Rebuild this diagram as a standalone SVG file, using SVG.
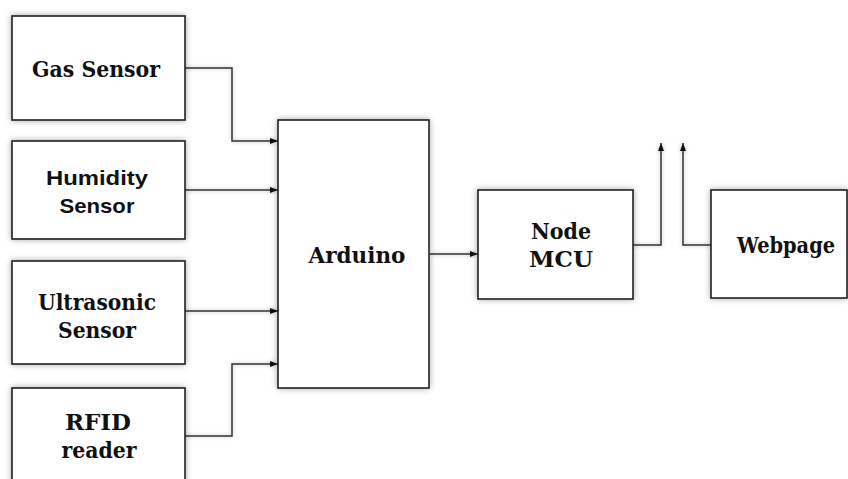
<svg xmlns="http://www.w3.org/2000/svg" width="848" height="479" viewBox="0 0 848 479">
<style>
.box{fill:#fff;stroke:#222;stroke-width:1.6;filter:url(#sh)}
.ln{fill:none;stroke:#333;stroke-width:1.5}
</style>
<defs>
<filter id="sh" x="-10%" y="-10%" width="120%" height="120%">
<feGaussianBlur in="SourceAlpha" stdDeviation="3"/>
<feComponentTransfer><feFuncA type="linear" slope="0.35"/></feComponentTransfer>
<feMerge><feMergeNode/><feMergeNode in="SourceGraphic"/></feMerge>
</filter>
<filter id="sh2" filterUnits="userSpaceOnUse" x="0" y="0" width="848" height="479">
<feGaussianBlur in="SourceAlpha" stdDeviation="2"/>
<feComponentTransfer><feFuncA type="linear" slope="0.3"/></feComponentTransfer>
<feMerge><feMergeNode/><feMergeNode in="SourceGraphic"/></feMerge>
</filter>
<marker id="ar" markerWidth="8" markerHeight="6" refX="8" refY="3" orient="auto" markerUnits="userSpaceOnUse">
<path d="M0,0 L8,3 L0,6 Z" fill="#111"/>
</marker>
</defs>
<rect width="848" height="479" fill="#fff"/>
<g id="connectors" filter="url(#sh2)">
<polyline class="ln" points="185,68 232,68 232,141 278,141" marker-end="url(#ar)"/>
<line class="ln" x1="185" y1="190" x2="278" y2="190" marker-end="url(#ar)"/>
<line class="ln" x1="185" y1="311" x2="278" y2="311" marker-end="url(#ar)"/>
<polyline class="ln" points="185,436 232,436 232,364 278,364" marker-end="url(#ar)"/>
<line class="ln" x1="430" y1="254" x2="478" y2="254" marker-end="url(#ar)"/>
<polyline class="ln" points="633,245 661,245 661,143" marker-end="url(#ar)"/>
<polyline class="ln" points="711,245 683,245 683,143" marker-end="url(#ar)"/>
</g>
<g font-family="'DejaVu Serif', 'Liberation Serif', serif" font-weight="bold" font-size="23" fill="#111" text-anchor="middle">
<g id="gas"><rect class="box" x="12" y="16" width="173" height="104"/><text x="96" y="77" textLength="128" lengthAdjust="spacingAndGlyphs">Gas Sensor</text></g>
<g id="humidity"><rect class="box" x="12" y="141" width="173" height="98"/><text x="97" y="185" font-family="'Liberation Sans', Arial, sans-serif" font-size="21" textLength="102" lengthAdjust="spacingAndGlyphs">Humidity</text><text x="97" y="213" font-family="'Liberation Sans', Arial, sans-serif" font-size="21" textLength="75" lengthAdjust="spacingAndGlyphs">Sensor</text></g>
<g id="ultrasonic"><rect class="box" x="12" y="261" width="173" height="103"/><text x="97" y="310" textLength="118" lengthAdjust="spacingAndGlyphs">Ultrasonic</text><text x="97" y="338" textLength="78" lengthAdjust="spacingAndGlyphs">Sensor</text></g>
<g id="rfid"><rect class="box" x="12" y="388" width="173" height="110"/><text x="98" y="430" textLength="66" lengthAdjust="spacingAndGlyphs">RFID</text><text x="99" y="458" textLength="75" lengthAdjust="spacingAndGlyphs">reader</text></g>
<g id="arduino"><rect class="box" x="278" y="120" width="151" height="268"/><text x="357" y="263" textLength="97" lengthAdjust="spacingAndGlyphs">Arduino</text></g>
<g id="nodemcu"><rect class="box" x="478" y="190" width="155" height="109"/><text x="561" y="239" textLength="60" lengthAdjust="spacingAndGlyphs">Node</text><text x="561" y="267" textLength="64" lengthAdjust="spacingAndGlyphs">MCU</text></g>
<g id="webpage"><rect class="box" x="711" y="190" width="136" height="108"/><text x="786" y="253" font-size="22" textLength="98" lengthAdjust="spacingAndGlyphs">Webpage</text></g>
</g>
</svg>
